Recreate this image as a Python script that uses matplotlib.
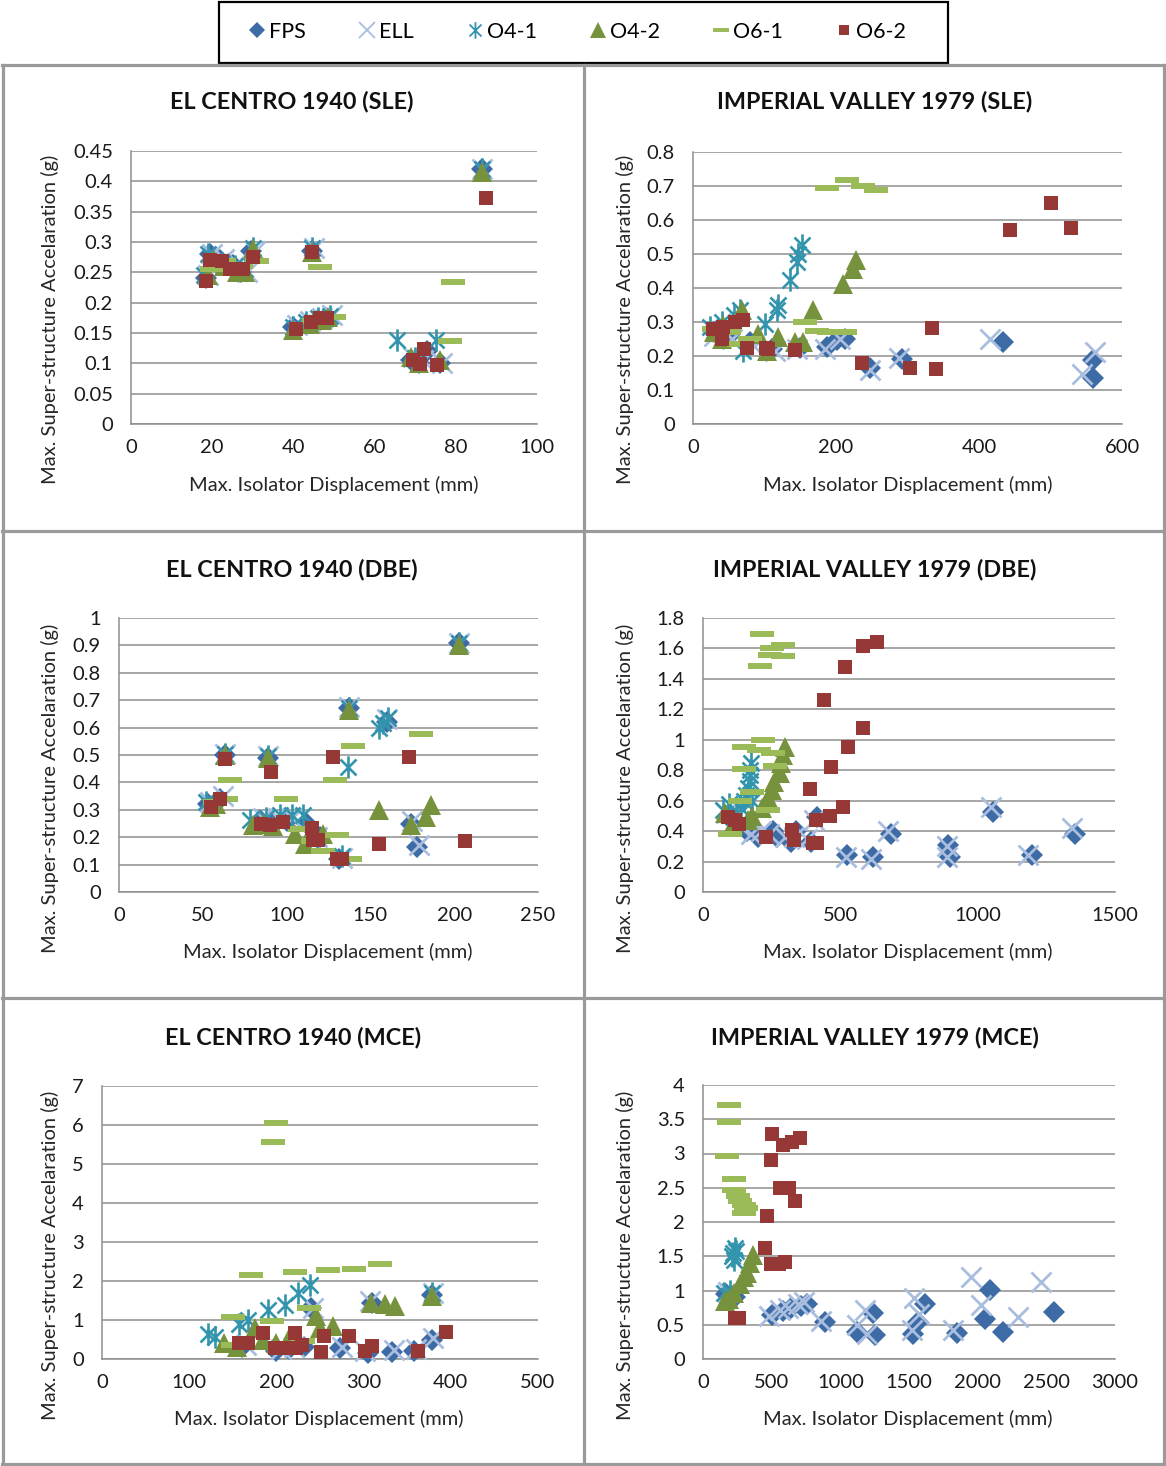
import matplotlib
matplotlib.use('Agg')
import matplotlib.pyplot as plt
from matplotlib.path import Path
from matplotlib.lines import Line2D
from matplotlib.patches import Rectangle
from matplotlib.ticker import FuncFormatter
import numpy as np

plt.rcParams['font.family'] = ['Lato', 'DejaVu Sans']

# ---------------- data (x = max isolator displacement mm, y = max accel g) ----------------
series_names = ['FPS', 'ELL', 'O4-1', 'O4-2', 'O6-1', 'O6-2']

# EL CENTRO 1940 (SLE)
ec_sle_fps = [(18.5, 0.24), (19.5, 0.28), (22, 0.27), (25, 0.262), (27, 0.25), (29.5, 0.285), (44.5, 0.285),
              (40, 0.16), (43, 0.165), (46, 0.172), (48, 0.175), (69, 0.105), (71, 0.1), (73, 0.12), (76, 0.1), (86.5, 0.42)]
ec_sle_ell = [(19, 0.245), (20, 0.28), (23, 0.272), (26, 0.265), (28.5, 0.25), (30.5, 0.285), (45, 0.29),
              (41, 0.163), (44, 0.17), (47, 0.175), (49.5, 0.18), (69.5, 0.11), (72, 0.105), (76.5, 0.1), (86.5, 0.42)]
ec_sle_o41 = [(18, 0.245), (19, 0.28), (22.5, 0.265), (25.5, 0.26), (28, 0.255), (30, 0.29), (44.5, 0.29),
              (40, 0.16), (43, 0.168), (46, 0.175), (49, 0.178), (65.5, 0.138), (75, 0.138), (70, 0.108), (86.5, 0.42)]
ec_sle_o42 = [(19, 0.245), (20.5, 0.27), (23, 0.26), (26, 0.25), (28, 0.25), (30, 0.288), (44.5, 0.283),
              (40, 0.155), (44, 0.165), (47, 0.172), (48.5, 0.177), (69, 0.11), (71, 0.1), (76, 0.105), (86.5, 0.415)]
ec_sle_o61 = [(20, 0.255), (23, 0.268), (27, 0.26), (31, 0.268), (46.5, 0.259), (50, 0.176), (45, 0.17),
              (78.5, 0.137), (79.2, 0.234)]
ec_sle_o62 = [(18.5, 0.236), (19.5, 0.271), (22.3, 0.268), (24.4, 0.256), (27.7, 0.256), (30, 0.276), (44.7, 0.283),
              (40.6, 0.157), (44.3, 0.168), (46.5, 0.174), (48.2, 0.175), (72.2, 0.123), (69.5, 0.105), (71.2, 0.099),
              (75.4, 0.098), (87.4, 0.373)]

# IMPERIAL VALLEY 1979 (SLE)
iv_sle_fps = [(30, 0.27), (50, 0.26), (80, 0.24), (110, 0.22), (150, 0.225), (187, 0.226), (201, 0.246), (212, 0.25),
              (248, 0.164), (292, 0.192), (434, 0.241), (560, 0.187), (560, 0.134)]
iv_sle_ell = [(30, 0.26), (55, 0.25), (85, 0.23), (115, 0.215), (145, 0.22), (185, 0.22), (205, 0.25), (248, 0.16),
              (288, 0.195), (416, 0.251), (562, 0.212), (544, 0.148)]
iv_sle_o41 = [(24, 0.285), (40, 0.3), (57, 0.32), (66, 0.334), (70, 0.215), (101, 0.295), (117, 0.334), (119, 0.349),
              (135, 0.423), (145, 0.476), (147, 0.501), (152, 0.526)]
iv_sle_o42 = [(29, 0.27), (40, 0.25), (42, 0.29), (68, 0.334), (91, 0.266), (103, 0.216), (119, 0.256), (143, 0.24),
              (154, 0.241), (168, 0.334), (210, 0.413), (224, 0.457), (228, 0.481)]
iv_sle_o61 = [(30, 0.28), (50, 0.27), (65, 0.235), (80, 0.25), (157, 0.30), (173, 0.274), (190, 0.27), (213, 0.27),
              (187, 0.694), (215, 0.717), (238, 0.70), (256, 0.687)]
iv_sle_o62 = [(28, 0.278), (40, 0.251), (42, 0.285), (59, 0.30), (70, 0.307), (75, 0.225), (102, 0.225), (105, 0.222),
              (143, 0.217), (236, 0.179), (304, 0.165), (334, 0.282), (340, 0.161), (444, 0.572), (501, 0.651), (529, 0.576)]

# EL CENTRO 1940 (DBE)
ec_dbe_fps = [(53, 0.32), (60, 0.34), (85, 0.26), (92, 0.25), (100, 0.26), (112, 0.25), (120, 0.2), (131, 0.12),
              (137, 0.67), (160, 0.62), (174, 0.25), (178, 0.165), (203, 0.908), (63, 0.5), (89, 0.49)]
ec_dbe_ell = [(54, 0.33), (62, 0.35), (86, 0.27), (95, 0.27), (103, 0.27), (118, 0.2), (133, 0.125), (137, 0.675),
              (160, 0.63), (175, 0.26), (179, 0.17), (203, 0.91), (63, 0.505), (89, 0.495)]
ec_dbe_o41 = [(52, 0.33), (57, 0.32), (78, 0.262), (88, 0.27), (96, 0.28), (103, 0.28), (110, 0.28), (118, 0.2),
              (133, 0.13), (136.7, 0.457), (137, 0.67), (155, 0.60), (157.5, 0.616), (160.5, 0.634), (203, 0.91),
              (63, 0.505), (89, 0.495)]
ec_dbe_o42 = [(54, 0.311), (58, 0.32), (80, 0.245), (86, 0.25), (92, 0.24), (105, 0.213), (111, 0.177), (122, 0.213),
              (137, 0.665), (155, 0.30), (174.5, 0.244), (183, 0.274), (186, 0.317), (203, 0.9), (63, 0.50), (89, 0.488)]
ec_dbe_o61 = [(57, 0.33), (64, 0.34), (66, 0.409), (99.9, 0.338), (108, 0.23), (116, 0.185), (122, 0.15),
              (128.7, 0.409), (130, 0.207), (138, 0.122), (139.6, 0.534), (180.4, 0.577)]
ec_dbe_o62 = [(55, 0.31), (60, 0.338), (63, 0.485), (85, 0.25), (90, 0.245), (90.9, 0.437), (98, 0.256), (115, 0.232),
              (116, 0.19), (119, 0.19), (127.7, 0.494), (130, 0.122), (133, 0.122), (155, 0.177), (173, 0.494),
              (206.7, 0.185)]

# IMPERIAL VALLEY 1979 (DBE)
iv_dbe_fps = [(90, 0.5), (120, 0.45), (160, 0.4), (200, 0.36), (255, 0.40), (270, 0.36), (322, 0.33), (340, 0.4),
              (395, 0.33), (415, 0.49), (524, 0.24), (618, 0.228), (686, 0.384), (893, 0.307), (900, 0.228),
              (1057, 0.527), (1197, 0.24), (1354, 0.38)]
iv_dbe_ell = [(85, 0.52), (130, 0.44), (175, 0.38), (210, 0.4), (240, 0.38), (300, 0.36), (330, 0.36), (405, 0.47),
              (380, 0.35), (520, 0.23), (610, 0.22), (675, 0.4), (890, 0.30), (890, 0.23), (1047, 0.56), (1185, 0.24),
              (1343, 0.42)]
iv_dbe_o41 = [(73, 0.538), (94, 0.58), (120, 0.52), (150, 0.6), (158, 0.637), (165, 0.68), (170, 0.73), (172, 0.77),
              (170, 0.80), (176, 0.85), (180, 0.6), (140, 0.55)]
iv_dbe_o42 = [(80, 0.52), (110, 0.45), (165, 0.47), (180, 0.50), (215, 0.55), (235, 0.62), (250, 0.67), (260, 0.72),
              (279, 0.78), (285, 0.85), (290, 0.90), (299, 0.95)]
iv_dbe_o61 = [(100, 0.38), (135, 0.60), (148, 0.95), (148, 0.81), (178, 0.658), (205, 0.93), (220, 0.998), (235, 0.54),
              (255, 0.91), (262, 0.83), (208, 1.486), (215, 1.697), (245, 1.554), (251, 1.606), (292, 1.55), (293, 1.62)]
iv_dbe_o62 = [(90, 0.49), (115, 0.47), (130, 0.45), (229, 0.362), (324, 0.406), (330, 0.34), (388, 0.676), (402, 0.325),
              (411, 0.476), (415, 0.325), (439, 1.262), (463, 0.50), (467, 0.823), (509, 0.56), (518, 1.481), (527, 0.95),
              (582, 1.075), (584, 1.617), (635, 1.642)]

# EL CENTRO 1940 (MCE)
ec_mce_fps = [(160, 0.3), (200, 0.2), (215, 0.25), (232, 0.3), (273, 0.27), (305, 0.15), (332, 0.19), (358, 0.2),
              (378.6, 0.49), (240, 1.3), (310, 1.43), (378, 1.65)]
ec_mce_ell = [(165, 0.35), (205, 0.25), (220, 0.3), (275, 0.3), (302, 0.2), (335, 0.22), (360, 0.25), (380, 0.55),
              (242, 1.3), (307, 1.5), (380, 1.68)]
ec_mce_o41 = [(122, 0.65), (129.7, 0.57), (157, 0.9), (167, 1.0), (190.8, 1.25), (209.9, 1.38), (225, 1.68),
              (238.5, 1.9), (378, 1.7)]
ec_mce_o42 = [(140, 0.4), (155, 0.3), (175, 0.8), (185, 0.5), (200, 0.4), (215, 0.55), (245, 1.1), (250, 0.8),
              (265, 0.85), (309, 1.43), (324, 1.40), (336, 1.37), (378.6, 1.62)]
ec_mce_o61 = [(150, 0.35), (150.7, 1.07), (170.6, 2.15), (194.6, 0.98), (196.5, 5.56), (199.6, 6.05), (221, 2.24),
              (230, 0.45), (237.7, 1.32), (259.5, 2.28), (289, 2.30), (318.7, 2.43)]
ec_mce_o62 = [(157, 0.4), (167, 0.4), (185, 0.66), (198, 0.29), (210, 0.29), (221, 0.66), (223, 0.29), (229.7, 0.35),
              (251, 0.17), (255, 0.59), (283, 0.60), (302, 0.21), (310, 0.34), (362, 0.21), (394, 0.70)]

# IMPERIAL VALLEY 1979 (MCE)
iv_mce_fps = [(170, 0.95), (230, 0.9), (500, 0.64), (580, 0.7), (640, 0.75), (710, 0.78), (757, 0.81), (885, 0.54),
              (1120, 0.40), (1241, 0.67), (1255, 0.35), (1532, 0.36), (1569, 0.54), (1617, 0.81), (1848, 0.375),
              (2054, 0.59), (2090, 1.01), (2187, 0.40), (2558, 0.69)]
iv_mce_ell = [(180, 0.98), (480, 0.63), (560, 0.72), (620, 0.75), (690, 0.8), (735, 0.83), (860, 0.55), (1120, 0.5),
              (1181, 0.72), (1195, 0.37), (1525, 0.42), (1540, 0.89), (1570, 0.65), (1819, 0.42), (1952, 1.20),
              (2025, 0.79), (2292, 0.62), (2462, 1.13)]
iv_mce_o41 = [(155, 0.97), (200, 1.0), (210, 1.5), (218, 1.55), (230, 1.62), (225, 1.45), (240, 1.58)]
iv_mce_o42 = [(160, 0.85), (190, 0.88), (225, 0.97), (270, 1.1), (300, 1.2), (320, 1.25), (340, 1.40), (361, 1.52)]
iv_mce_o61 = [(175, 2.96), (186, 3.46), (186, 3.71), (223, 2.63), (223, 2.47), (255, 2.38), (270, 2.3), (295, 2.25),
              (295, 2.13), (310, 2.2)]
iv_mce_o62 = [(230, 0.60), (260, 0.6), (448, 1.62), (465, 2.09), (495, 2.9), (497, 1.39), (502, 3.28), (555, 1.39),
              (562, 2.49), (582, 3.12), (600, 1.41), (623, 2.49), (647, 3.17), (667, 2.30), (708, 3.22)]

titles = ['EL CENTRO 1940 (SLE)', 'IMPERIAL VALLEY 1979 (SLE)',
          'EL CENTRO 1940 (DBE)', 'IMPERIAL VALLEY 1979 (DBE)',
          'EL CENTRO 1940 (MCE)', 'IMPERIAL VALLEY 1979 (MCE)']
x_ticks = [[0, 20, 40, 60, 80, 100], [0, 200, 400, 600],
           [0, 50, 100, 150, 200, 250], [0, 500, 1000, 1500],
           [0, 100, 200, 300, 400, 500], [0, 500, 1000, 1500, 2000, 2500, 3000]]
y_ticks = [[0, 0.05, 0.1, 0.15, 0.2, 0.25, 0.3, 0.35, 0.4, 0.45], [0, 0.1, 0.2, 0.3, 0.4, 0.5, 0.6, 0.7, 0.8],
           [0, 0.1, 0.2, 0.3, 0.4, 0.5, 0.6, 0.7, 0.8, 0.9, 1], [0, 0.2, 0.4, 0.6, 0.8, 1, 1.2, 1.4, 1.6, 1.8],
           [0, 1, 2, 3, 4, 5, 6, 7], [0, 0.5, 1, 1.5, 2, 2.5, 3, 3.5, 4]]
x_label = 'Max. Isolator Displacement (mm)'
y_label = 'Max. Super-structure Accelaration (g)'

panels = [
    [ec_sle_fps, ec_sle_ell, ec_sle_o41, ec_sle_o42, ec_sle_o61, ec_sle_o62],
    [iv_sle_fps, iv_sle_ell, iv_sle_o41, iv_sle_o42, iv_sle_o61, iv_sle_o62],
    [ec_dbe_fps, ec_dbe_ell, ec_dbe_o41, ec_dbe_o42, ec_dbe_o61, ec_dbe_o62],
    [iv_dbe_fps, iv_dbe_ell, iv_dbe_o41, iv_dbe_o42, iv_dbe_o61, iv_dbe_o62],
    [ec_mce_fps, ec_mce_ell, ec_mce_o41, ec_mce_o42, ec_mce_o61, ec_mce_o62],
    [iv_mce_fps, iv_mce_ell, iv_mce_o41, iv_mce_o42, iv_mce_o61, iv_mce_o62],
]

# ---------------- styles ----------------
W, H = 1166, 1466
asterisk = Path([(0, -1), (0, 1), (-0.72, -0.72), (0.72, 0.72), (-0.72, 0.72), (0.72, -0.72)],
                [Path.MOVETO, Path.LINETO, Path.MOVETO, Path.LINETO, Path.MOVETO, Path.LINETO])
dash = Path([(-1, -0.27), (1, -0.27), (1, 0.27), (-1, 0.27), (-1, -0.27)],
            [Path.MOVETO, Path.LINETO, Path.LINETO, Path.LINETO, Path.CLOSEPOLY])

styles = [
    dict(marker='D', color='#3D6BA5', ms=11.5, mew=0, mfc='#3D6BA5'),
    dict(marker='x', color='#A9BEDE', ms=14, mew=2.0),
    dict(marker=asterisk, color='#3395AD', ms=16, mew=1.9, mfc='none'),
    dict(marker='^', color='#76923C', ms=15, mew=0, mfc='#76923C'),
    dict(marker=dash, color='#9BBB59', ms=17, mew=0, mfc='#9BBB59'),
    dict(marker='s', color='#963835', ms=10, mew=0, mfc='#963835'),
]
legend_styles = [
    dict(marker='D', color='#3D6BA5', ms=8, mew=0),
    dict(marker='x', color='#A9BEDE', ms=11, mew=1.3),
    dict(marker=asterisk, color='#3395AD', ms=12, mew=1.3, mfc='none'),
    dict(marker='^', color='#76923C', ms=11, mew=0),
    dict(marker=dash, color='#9BBB59', ms=12, mew=0),
    dict(marker='s', color='#963835', ms=7.5, mew=0),
]

# axes pixel rectangles (left, top, right, bottom)
ax_px = [(131, 151, 537, 424), (693, 152, 1122, 424),
         (119, 618, 538, 892), (703, 618, 1115, 892),
         (102, 1086, 538, 1359), (703, 1085, 1115, 1359)]
title_px = [(292, 102), (875, 102), (292, 570), (875, 570), (293, 1037), (875, 1037)]
xlabel_px = [(334, 485), (908, 485), (328, 952), (908, 952), (319, 1419), (908, 1419)]
ylabel_px = [(50, 319), (625, 319), (50, 788), (625, 788), (50, 1255), (625, 1255)]

grid_c = '#8E8E8E'
fig = plt.figure(figsize=(W / 100, H / 100), dpi=100)


def fmt(v, p):
    return '%g' % round(v, 4)


for i, (l, t, r, b) in enumerate(ax_px):
    ax = fig.add_axes([l / W, 1 - b / H, (r - l) / W, (b - t) / H])
    for k, pts in enumerate(panels[i]):
        xs = [p[0] for p in pts]
        ys = [p[1] for p in pts]
        st = styles[k]
        ax.plot(xs, ys, linestyle='none', marker=st['marker'], color=st['color'], markersize=st['ms'],
                markeredgewidth=st['mew'], markerfacecolor=st.get('mfc', st['color']),
                markeredgecolor=st['color'], clip_on=False, zorder=3 + k)
    ax.set_xlim(x_ticks[i][0], x_ticks[i][-1])
    ax.set_ylim(y_ticks[i][0], y_ticks[i][-1])
    ax.set_xticks(x_ticks[i])
    ax.set_yticks(y_ticks[i])
    ax.xaxis.set_major_formatter(FuncFormatter(fmt))
    ax.yaxis.set_major_formatter(FuncFormatter(fmt))
    ax.yaxis.grid(True, color=grid_c, linewidth=1.1)
    ax.set_axisbelow(True)
    for s in ['top', 'right']:
        ax.spines[s].set_visible(False)
    for s in ['left', 'bottom']:
        ax.spines[s].set_color(grid_c)
        ax.spines[s].set_linewidth(1.1)
    ax.tick_params(length=0, labelsize=14.5, labelcolor='#1A1A1A')
    ax.tick_params(axis='y', pad=13)
    ax.tick_params(axis='x', pad=11)
    ax.set_xlabel(x_label, fontsize=14.5, color='#262626')
    ax.set_ylabel(y_label, fontsize=14.5, color='#262626')
    xlx, xly = xlabel_px[i]
    ax.xaxis.set_label_coords((xlx - l) / (r - l), (b - xly) / (b - t))
    ax.xaxis.label.set_va('center')
    ylx, yly = ylabel_px[i]
    ax.yaxis.set_label_coords((ylx - l) / (r - l), (b - yly) / (b - t))
    ax.yaxis.label.set_va('center')
    tx, ty = title_px[i]
    fig.text(tx / W, 1 - ty / H, titles[i], ha='center', va='center', fontsize=16.8,
             fontweight='bold', color='#111111')

# panel borders
border_c = '#9A9A9A'
for yy in [64.5, 531, 997.5, 1463.5]:
    fig.add_artist(Line2D([2 / W, 1165 / W], [1 - yy / H, 1 - yy / H], color=border_c, lw=2.3))
for xx in [3, 584, 1163.5]:
    fig.add_artist(Line2D([xx / W, xx / W], [1 - 64.5 / H, 1 - 1463.5 / H], color=border_c, lw=2.3))

# legend box
fig.add_artist(Rectangle((219 / W, 1 - 63 / H), (948 - 219) / W, 61 / H, transform=fig.transFigure,
                         fill=False, edgecolor='black', linewidth=1.6))
handles = [Line2D([], [], linestyle='none', marker=st['marker'], color=st['color'], markersize=st['ms'],
                  markeredgewidth=st['mew'], markerfacecolor=st.get('mfc', st['color']))
           for st in legend_styles]
fig.legend(handles, series_names, loc='center', bbox_to_anchor=(577 / W, 1 - 32 / H), ncol=6, frameon=False,
           fontsize=15.5, handlelength=0.8, handletextpad=0.15, columnspacing=2.45)

fig.savefig('out.png', dpi=100)
